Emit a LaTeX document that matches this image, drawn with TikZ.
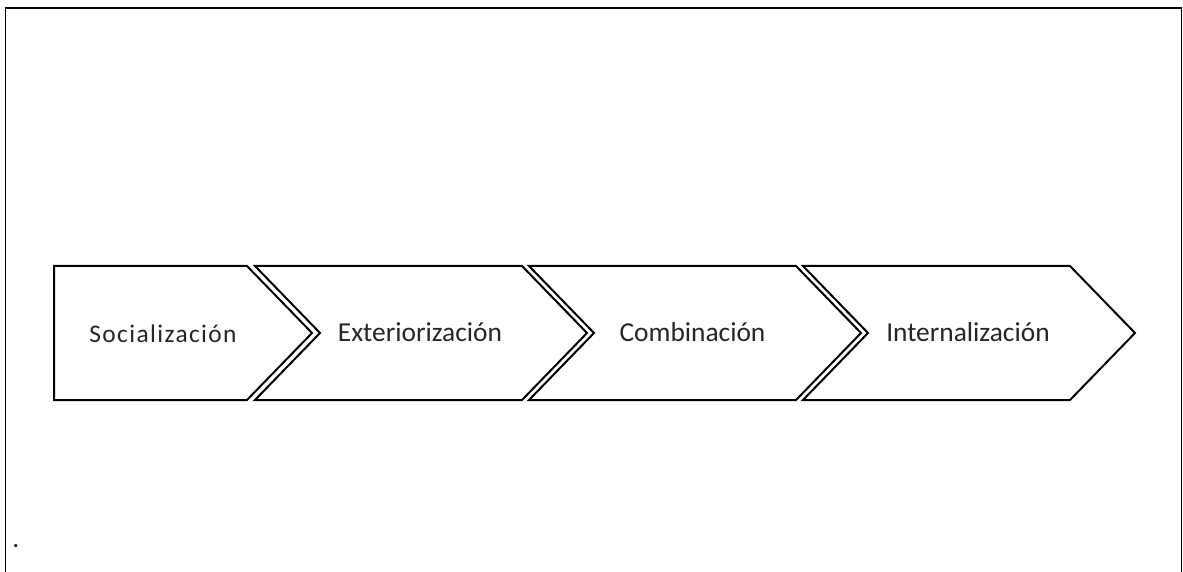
\documentclass[tikz,border=0pt]{standalone}
\usepackage{fontspec}
\setmainfont{Carlito}
\newfontfamily\spacedfont[LetterSpace=5.5]{Carlito}
\begin{document}
\begin{tikzpicture}[x=1bp,y=-1bp,
  chev/.style={draw=black, line width=2bp, line join=miter, fill=white},
  lbl/.style={anchor=base, inner sep=0pt, font=\fontsize{27.5}{30}\selectfont, text=black!85},
  frameline/.style={draw=black, line width=1.5bp}]
\useasboundingbox (0,0) rectangle (1183,572);
\draw[frameline] (5.5,572) -- (5.5,8) -- (1181.5,8) -- (1181.5,572);
% chevrons
\draw[chev] (54,266) -- (247,266) -- (312,333) -- (247,400) -- (54,400) -- cycle;
\draw[chev] (255,266) -- (522,266) -- (587,333) -- (522,400) -- (255,400) -- (320,333) -- cycle;
\draw[chev] (529,266) -- (796,266) -- (861,333) -- (796,400) -- (529,400) -- (594,333) -- cycle;
\draw[chev] (803,266) -- (1070,266) -- (1135,333) -- (1070,400) -- (803,400) -- (868,333) -- cycle;
% labels
\node[lbl, font=\spacedfont\fontsize{25.5}{28}\selectfont] (soc) at (163,343) {Socialización};
\node[lbl] (ext) at (420,342) {Exteriorización};
\node[lbl] (com) at (692.5,342) {Combinación};
\node[lbl] (int) at (968,342) {Internalización};
\node[lbl, anchor=base west] (dot) at (12.2,547) {.};
\end{tikzpicture}
\end{document}
